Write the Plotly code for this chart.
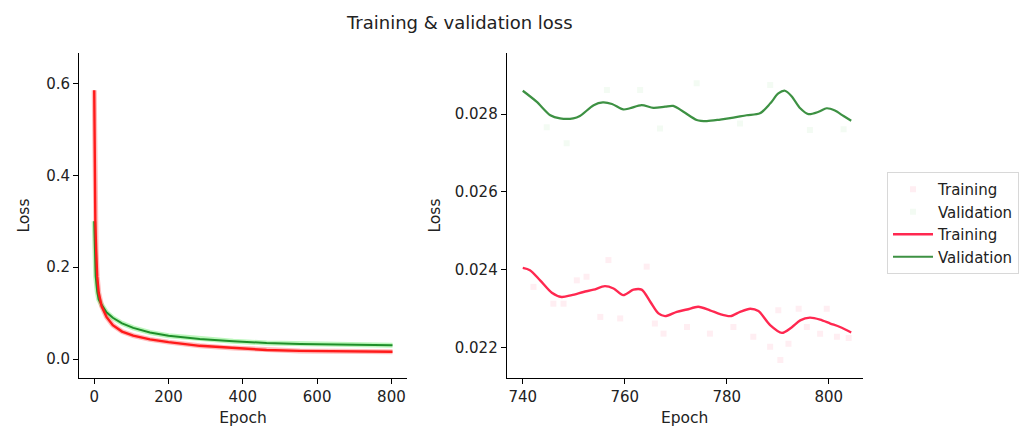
import plotly.graph_objects as go

# ---------------- data ----------------
# Left panel: full training history (smoothed)
full_epochs_train = [0, 1, 2, 3, 5, 8, 12, 20, 33, 50, 75, 105, 150, 200, 284, 374, 464, 554, 643, 720, 803]
full_train_loss = [0.585, 0.45, 0.36, 0.30, 0.24, 0.18, 0.145, 0.115, 0.092, 0.074, 0.060, 0.051, 0.043,
                   0.037, 0.029, 0.024, 0.020, 0.018, 0.017, 0.0165, 0.016]
full_epochs_val = [0, 2, 4, 8, 12, 20, 33, 50, 75, 105, 150, 200, 284, 374, 464, 554, 643, 720, 803]
full_val_loss = [0.30, 0.22, 0.18, 0.148, 0.13, 0.118, 0.102, 0.090, 0.078, 0.068, 0.058, 0.051, 0.044,
                 0.039, 0.035, 0.033, 0.032, 0.031, 0.030]

# Right panel: last epochs, smoothed curves
zoom_epochs_val = [740, 742.7, 745.4, 747.3, 749.9, 751.2, 753.9, 755.7, 757.5, 759.7, 761.0, 763.3, 765.6,
                   767.9, 769.5, 771.5, 774.1, 776.1, 778.7, 781.3, 783.9, 786.5, 788.5, 790.1, 791.4,
                   792.7, 794.4, 796.0, 798.0, 799.6, 801.2, 802.9, 804.4]
zoom_val_loss = [0.0286, 0.02832, 0.02797, 0.02789, 0.02789, 0.02795, 0.02823, 0.0283, 0.02826, 0.02812,
                 0.02815, 0.02823, 0.02816, 0.02819, 0.02821, 0.02806, 0.02785, 0.02782, 0.02786, 0.02791,
                 0.02797, 0.02802, 0.02827, 0.02853, 0.0286, 0.02846, 0.02815, 0.028, 0.02806, 0.02815,
                 0.02809, 0.02795, 0.02783]
zoom_epochs_train = [740, 741.4, 743.4, 745.7, 747.6, 749.6, 751.9, 753.9, 756.1, 757.8, 759.7, 761.7, 763.3,
                     765.0, 766.6, 767.9, 770.2, 772.2, 774.4, 776.7, 778.7, 780.7, 782.6, 784.6, 786.2,
                     788.5, 790.8, 792.7, 794.4, 796.3, 798.3, 800.3, 802.2, 804.4]
zoom_train_loss = [0.02405, 0.02399, 0.02373, 0.02341, 0.0233, 0.02335, 0.02343, 0.02349, 0.02358, 0.02352,
                   0.02335, 0.02349, 0.02349, 0.02318, 0.02288, 0.02281, 0.02292, 0.02298, 0.02305, 0.02296,
                   0.02286, 0.02281, 0.02292, 0.023, 0.02294, 0.02258, 0.02238, 0.02252, 0.0227, 0.02277,
                   0.02272, 0.02262, 0.02253, 0.02239]

# Right panel: faint raw points
raw_train_epochs = [742.1, 746.0, 748.0, 750.6, 752.5, 755.2, 756.8, 759.1, 764.3, 765.9, 767.6, 772.2, 776.7,
                    781.3, 785.2, 788.5, 790.1, 790.5, 792.1, 794.1, 795.7, 798.3, 799.6, 801.6, 803.9]
raw_train_loss = [0.02356, 0.02313, 0.02313, 0.02373, 0.02382, 0.02279, 0.02425, 0.02275, 0.02408, 0.02262,
                  0.02236, 0.02253, 0.02236, 0.02253, 0.02228, 0.02202, 0.02296, 0.02168, 0.0221, 0.023,
                  0.02253, 0.02236, 0.023, 0.02228, 0.02225]
raw_val_epochs = [744.7, 748.6, 756.5, 763.0, 766.9, 774.1, 782.6, 788.5, 796.3, 802.9]
raw_val_loss = [0.02766, 0.02725, 0.02862, 0.02862, 0.02763, 0.02879, 0.02776, 0.02875, 0.02759, 0.02761]

left_xticks = [0, 200, 400, 600, 800]
left_yticks = [0.0, 0.2, 0.4, 0.6]
right_xticks = [740, 760, 780, 800]
right_yticks = [0.022, 0.024, 0.026, 0.028]

# ---------------- figure ----------------
FONT = "DejaVu Sans"
fig = go.Figure()

# left panel halos + lines
fig.add_trace(go.Scatter(x=full_epochs_val, y=full_val_loss, mode="lines", xaxis="x", yaxis="y",
                         line=dict(color="rgba(90,235,90,0.40)", width=5), showlegend=False, hoverinfo="skip"))
fig.add_trace(go.Scatter(x=full_epochs_train, y=full_train_loss, mode="lines", xaxis="x", yaxis="y",
                         line=dict(color="rgba(255,90,90,0.40)", width=5), showlegend=False, hoverinfo="skip"))
fig.add_trace(go.Scatter(x=full_epochs_val, y=full_val_loss, mode="lines", xaxis="x", yaxis="y",
                         line=dict(color="#1f8f2a", width=2), showlegend=False))
fig.add_trace(go.Scatter(x=full_epochs_train, y=full_train_loss, mode="lines", xaxis="x", yaxis="y",
                         line=dict(color="#ff1a1a", width=2.4), showlegend=False))

# right panel
fig.add_trace(go.Scatter(x=raw_train_epochs, y=raw_train_loss, mode="markers", xaxis="x2", yaxis="y2",
                         name="Training", marker=dict(color="rgba(255,90,130,0.10)", size=6, symbol="square")))
fig.add_trace(go.Scatter(x=raw_val_epochs, y=raw_val_loss, mode="markers", xaxis="x2", yaxis="y2",
                         name="Validation", marker=dict(color="rgba(90,200,90,0.07)", size=6, symbol="square")))
fig.add_trace(go.Scatter(x=zoom_epochs_train, y=zoom_train_loss, mode="lines", xaxis="x2", yaxis="y2",
                         name="Training", line=dict(color="#ff2850", width=2.4, shape="spline", smoothing=0.8)))
fig.add_trace(go.Scatter(x=zoom_epochs_val, y=zoom_val_loss, mode="lines", xaxis="x2", yaxis="y2",
                         name="Validation", line=dict(color="#3d9143", width=2.2, shape="spline", smoothing=0.8)))

axis_common = dict(showline=True, linecolor="black", linewidth=1, ticks="outside", ticklen=5,
                   tickwidth=1, tickcolor="black", showgrid=False, zeroline=False, mirror=False,
                   tickfont=dict(family=FONT, size=15, color="#222"))
ydom = [1 - 378 / 427, 1 - 53 / 427]

fig.update_layout(
    width=1031, height=427,
    margin=dict(l=0, r=0, t=0, b=0),
    paper_bgcolor="white", plot_bgcolor="white",
    font=dict(family=FONT, size=15, color="#222"),
    xaxis=dict(domain=[79 / 1031, 407 / 1031], range=[-41, 842], tickvals=left_xticks,
               title=dict(text="Epoch", standoff=7, font=dict(size=15.5)), anchor="y", **axis_common),
    yaxis=dict(domain=ydom, range=[-0.041, 0.666], tickvals=left_yticks, tickformat=".1f",
               title=dict(text="Loss", standoff=12, font=dict(size=15.5)), anchor="x", **axis_common),
    xaxis2=dict(domain=[506.7 / 1031, 862.7 / 1031], range=[736.85, 806.65], tickvals=right_xticks,
                title=dict(text="Epoch", standoff=7, font=dict(size=15.5)), anchor="y2", **axis_common),
    yaxis2=dict(domain=ydom, range=[0.02122, 0.02957], tickvals=right_yticks, tickformat=".3f",
                title=dict(text="Loss", standoff=10, font=dict(size=15.5)), anchor="x2", **axis_common),
    legend=dict(x=887 / 1031, y=1 - 172 / 427, xanchor="left", yanchor="top",
                bordercolor="#d8d8d8", borderwidth=1, bgcolor="rgba(255,255,255,0.9)",
                font=dict(family=FONT, size=15, color="#222"), itemwidth=40, tracegroupgap=0),
    annotations=[dict(text="Training &amp; validation loss", x=459 / 1031, y=1 - 22 / 427,
                      xref="paper", yref="paper", xanchor="center", yanchor="middle",
                      showarrow=False, font=dict(family=FONT, size=18, color="#222"))],
)

fig.write_html("out.html")
